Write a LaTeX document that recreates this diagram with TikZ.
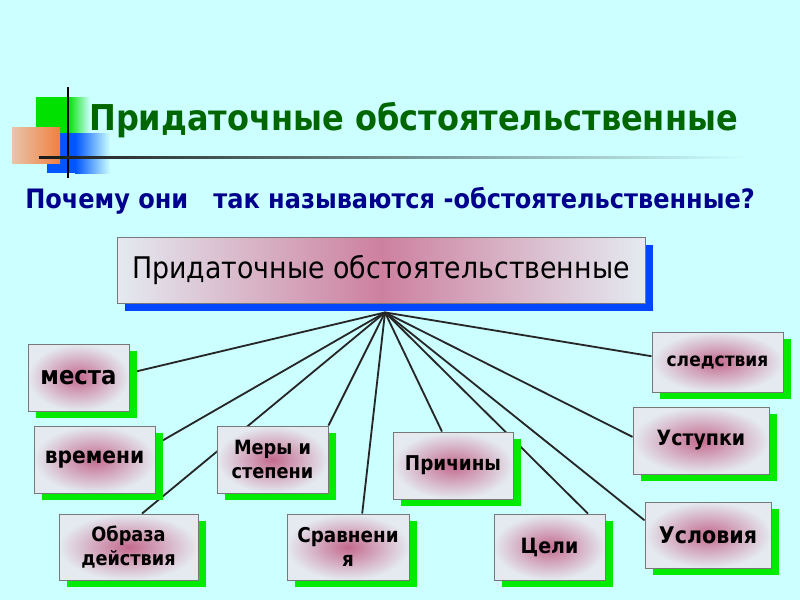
\documentclass[tikz,border=0pt]{standalone}
\usepackage{fontspec}
\setmainfont{DejaVu Sans Condensed}
\usetikzlibrary{positioning,calc,shadows,backgrounds}
\definecolor{slidebg}{RGB}{204,255,255}
\definecolor{titlegreen}{RGB}{0,102,0}
\definecolor{asknavy}{RGB}{0,0,140}
\definecolor{rosecore}{RGB}{196,106,142}
\definecolor{paleedge}{RGB}{228,234,240}
\definecolor{shadegreen}{RGB}{0,235,0}
\definecolor{shadeblue}{RGB}{0,70,255}
\definecolor{decogreen}{RGB}{0,225,0}
\definecolor{decoblue}{RGB}{0,85,255}
\definecolor{decoorange}{RGB}{240,128,64}
\definecolor{decopeach}{RGB}{232,196,170}
\definecolor{rimgray}{RGB}{120,120,120}

\begin{document}
\begin{tikzpicture}[x=0.025cm,y=-0.025cm,
  kind/.style={draw=rimgray,line width=0.6pt,inner color=rosecore,outer color=paleedge,
    align=center,font=\bfseries\fontsize{15}{17}\selectfont,inner sep=2pt,
    general shadow={fill=shadegreen,shadow xshift=2mm,shadow yshift=-1.8mm}},
  spoke/.style={draw=black!85,line width=1.3pt}]
  \useasboundingbox (0,0) rectangle (800,600);
  % slide decoration
  \fill[decogreen] (36,97) rectangle (68,133);
  \shade[left color=decogreen,right color=slidebg] (68,97) rectangle (90,133);
  \fill[decoblue] (47,133) rectangle (75,173);
  \shade[left color=decoblue,right color=slidebg] (75,133) rectangle (110,173);
  \shade[left color=decopeach,right color=decoorange] (12,127) rectangle (60,163);
  \draw[black,line width=1.2pt] (68,87) -- (68,178);
  \shade[left color=black!90,middle color=black!45!slidebg,right color=slidebg] (39,156) rectangle (748,158.5);
  \node[anchor=base west,text=titlegreen,font=\bfseries\fontsize{25.3}{30}\selectfont,inner sep=0pt] (heading) at (89,130) {Придаточные обстоятельственные};
  \node[anchor=base west,text=asknavy,font=\bfseries\fontsize{19}{22}\selectfont,inner sep=0pt] (question) at (25,208) {Почему они~~~так называются -обстоятельственные?};
  % main box
  \node[draw=rimgray,line width=0.6pt,left color=paleedge,right color=paleedge,middle color=rosecore!85!white,
    minimum width=132mm,minimum height=16.5mm,font=\fontsize{21.2}{25}\selectfont,
    general shadow={fill=shadeblue,shadow xshift=2mm,shadow yshift=-2mm}] (main) at (381,270) {Придаточные обстоятельственные};
  \coordinate (hub) at ($(main.south)+(4,9)$);
  % kinds of clauses
  \node[kind,minimum width=25.25mm,minimum height=16.75mm,font=\bfseries\fontsize{18}{20}\selectfont] (mesta) at (78.5,377.5) {места};
  \node[kind,minimum width=30.25mm,minimum height=16.75mm,font=\bfseries\fontsize{16}{18}\selectfont] (vremeni) at (94.5,459.5) {времени};
  \node[kind,minimum width=27.75mm,minimum height=16.75mm,font=\bfseries\fontsize{14}{16.5}\selectfont] (mery) at (272.5,459.5) {Меры и\\степени};
  \node[kind,minimum width=34.75mm,minimum height=16.5mm,font=\bfseries\fontsize{14}{16.5}\selectfont] (obraza) at (128.5,547) {Образа\\действия};
  \node[kind,minimum width=30.5mm,minimum height=16.5mm,font=\bfseries\fontsize{14.5}{16.5}\selectfont] (sravn) at (348,547) {Сравнени\\я};
  \node[kind,minimum width=30mm,minimum height=16.75mm,font=\bfseries\fontsize{14.5}{17}\selectfont] (prich) at (453,465.5) {Причины};
  \node[kind,minimum width=27.75mm,minimum height=16.5mm] (celi) at (549.5,547) {Цели};
  \node[kind,minimum width=31.5mm,minimum height=16.5mm,font=\bfseries\fontsize{16.3}{18}\selectfont] (uslov) at (708,535) {Условия};
  \node[kind,minimum width=34mm,minimum height=16.75mm] (ustup) at (701,440.5) {Уступки};
  \node[kind,minimum width=32.75mm,minimum height=15mm,font=\bfseries\fontsize{13.5}{16}\selectfont] (sled) at (717.5,362) {следствия};
  \begin{scope}[on background layer]
    \fill[slidebg] (0,0) rectangle (800,600);
    \draw[spoke] (hub) -- (mesta.5);
    \draw[spoke] (hub) -- ($(vremeni.east)+(-5,-12)$);
    \draw[spoke] (hub) -- (obraza.68);
    \draw[spoke] (hub) -- (mery.north east);
    \draw[spoke] (hub) -- (sravn.67);
    \draw[spoke] (hub) -- (prich.108);
    \draw[spoke] (hub) -- (celi.41);
    \draw[spoke] (hub) -- (uslov.167);
    \draw[spoke] (hub) -- (ustup.177);
    \draw[spoke] (hub) -- (sled.175);
  \end{scope}
\end{tikzpicture}
\end{document}
